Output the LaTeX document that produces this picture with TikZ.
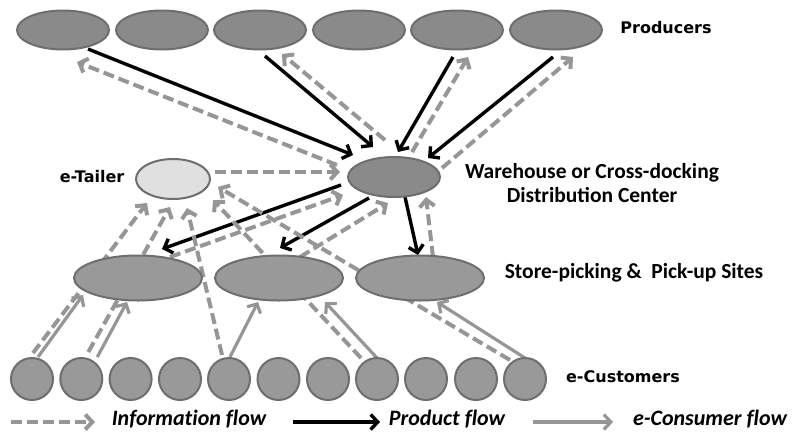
\documentclass[tikz,border=0pt]{standalone}
\usepackage{fontspec}
\setmainfont{Carlito}
\newfontfamily\dvfont{DejaVu Sans}
\newfontfamily\legfont[Ligatures=NoCommon]{Carlito}
\usetikzlibrary{arrows.meta,calc,backgrounds,shapes.geometric}
\definecolor{lg}{HTML}{969696}
\definecolor{edgec}{HTML}{6E6E6E}
\definecolor{pfill}{HTML}{8A8A8A}
\definecolor{sfill}{HTML}{999999}
\definecolor{efill}{HTML}{E0E0E0}
\begin{document}
\begin{tikzpicture}[x=1pt,y=-1pt,
  ell/.style={ellipse,draw=edgec,line width=2pt,inner sep=0pt},
  prod/.style={ell,fill=pfill,minimum width=92pt,minimum height=39pt},
  dcen/.style={ell,fill=pfill,minimum width=92pt,minimum height=40pt},
  etl/.style={ell,fill=efill,minimum width=74pt,minimum height=40pt},
  site/.style={ell,fill=sfill,minimum width=128pt,minimum height=45pt},
  cust/.style={circle,draw=edgec,line width=2pt,fill=sfill,minimum size=42pt,inner sep=0pt},
  info/.style={draw=lg,line width=4pt,dash pattern=on 11pt off 5pt,-{Straight Barb[length=7pt,width=15pt]}},
  prodf/.style={draw=black,line width=3.4pt,-{Straight Barb[length=7pt,width=15pt]}},
  consf/.style={draw=lg,line width=3.2pt,-{Straight Barb[length=7pt,width=15pt]}},
  dvlab/.style={font=\dvfont\bfseries\fontsize{16}{19}\selectfont},
  cblab/.style={font=\bfseries\fontsize{21.5}{24}\selectfont,align=center},
  leglab/.style={font=\legfont\bfseries\itshape\fontsize{22}{26}\selectfont,inner sep=0pt,anchor=base}]
\useasboundingbox (0,0) rectangle (795,432);
% producers
\node[prod] (p1) at (63,30) {};
\node[prod] (p2) at (162,30) {};
\node[prod] (p3) at (260,30) {};
\node[prod] (p4) at (359,30) {};
\node[prod] (p5) at (457,30) {};
\node[prod] (p6) at (556,30) {};
\node[dvlab] (tprod) at (666,28) {Producers};
% middle
\node[etl] (et) at (173,179) {};
\node[dvlab] (tet) at (92,177) {e-Tailer};
\node[dcen] (dc) at (394,177) {};
\node[cblab] (tdc) at (592,183) {Warehouse or Cross-docking\\Distribution Center};
% sites
\node[site] (s1) at (138,278) {};
\node[site] (s2) at (279,278) {};
\node[site] (s3) at (420,278) {};
\node[cblab] (ts) at (634,273) {Store-picking \&\ \ Pick-up Sites};
% customers
\foreach \i/\x in {1/32,2/81.3,3/130.6,4/180,5/229,6/278.5,7/328,8/377,9/426,10/476,11/525}
  \node[cust] (c\i) at (\x,379) {};
\node[dvlab] (tc) at (623,377) {e-Customers};
% legend
\coordinate (l1a) at (11,422); \coordinate (l1b) at (95,422);
\coordinate (l2a) at (293,422); \coordinate (l2b) at (380,422);
\coordinate (l3a) at (533,422); \coordinate (l3b) at (613,422);
\node[leglab] (li) at (189,425) {Information flow};
\node[leglab] (lp) at (447,425) {Product flow};
\node[leglab] (lc) at (710,425) {e-Consumer flow};
\draw[info] (l1a) -- (l1b);
\draw[prodf] (l2a) -- (l2b);
\draw[consf] (l3a) -- (l3b);
\begin{pgfonlayer}{background}
% producers <-> DC
\draw[prodf] ($(p1)+(25,19)$) -- ($(dc)+(-41,-22)$);
\draw[info] ($(dc)+(-57,-12)$) -- ($(p1)+(14,32)$);
\draw[prodf] ($(p3)+(5,26)$) -- ($(dc)+(-21,-30)$);
\draw[info] ($(dc)+(-9,-37)$) -- ($(p3)+(22,24)$);
\draw[prodf] ($(p5)+(-4,27)$) -- ($(dc)+(4,-25)$);
\draw[info] ($(dc)+(18,-25)$) -- ($(p5)+(11,27)$);
\draw[prodf] ($(p6)+(-3,27)$) -- ($(dc)+(34,-19)$);
\draw[info] ($(dc)+(48,-9)$) -- ($(p6)+(17,27)$);
% e-Tailer -> DC
\draw[info] ($(et)+(42,-7)$) -- ($(dc)+(-54,-5)$);
% DC -> sites
\draw[prodf] ($(dc)+(-53,8)$) -- ($(s1)+(24,-29)$);
\draw[prodf] ($(dc)+(-25,21)$) -- ($(s2)+(1,-30)$);
\draw[prodf] ($(dc)+(11,20)$) -- ($(s3)+(-2,-23)$);
% sites -> DC
\draw[info] ($(s1)+(32,-21)$) -- ($(dc)+(-51,18)$);
\draw[info] ($(s2)+(21,-21)$) -- ($(dc)+(-6,26)$);
\draw[info] ($(s3)+(13,-21)$) -- ($(dc)+(32,20)$);
% customers -> e-Tailer
\draw[info] ($(c1)+(1,-26)$) -- ($(et)+(-26,24)$);
\draw[info] ($(c2)+(7,-27)$) -- ($(et)+(-3,28)$);
\draw[info] ($(c5)+(-7,-24)$) -- ($(et)+(14,29)$);
\draw[info] ($(c8)+(-16,-21)$) -- ($(et)+(40,21)$);
\draw[info] ($(c11)+(-15,-19)$) -- ($(et)+(45,8)$);
% customers -> sites
\draw[consf] ($(c1)+(6,-22)$) -- ($(s1)+(-55,17)$);
\draw[consf] ($(c2)+(16,-22)$) -- ($(s1)+(-11,24)$);
\draw[consf] ($(c5)+(1,-22)$) -- ($(s2)+(-21,24)$);
\draw[consf] ($(c8)+(0,-21)$) -- ($(s2)+(46,24)$);
\draw[consf] ($(c11)+(0,-21)$) -- ($(s3)+(17,24)$);
\end{pgfonlayer}
\end{tikzpicture}
\end{document}
